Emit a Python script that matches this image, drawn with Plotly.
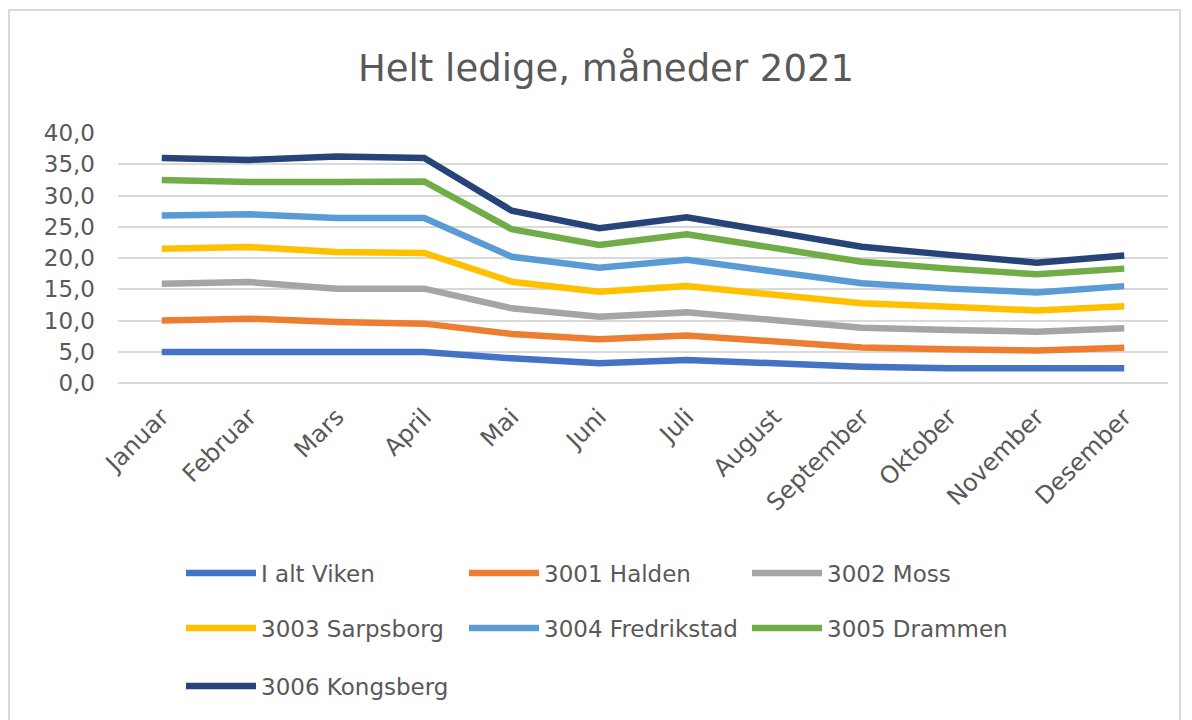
import plotly.graph_objects as go

months = ["Januar", "Februar", "Mars", "April", "Mai", "Juni", "Juli",
          "August", "September", "Oktober", "November", "Desember"]

viken = [4.95, 4.95, 4.95, 4.95, 3.95, 3.15, 3.70, 3.15, 2.60, 2.35, 2.35, 2.35]
halden = [5.05, 5.35, 4.80, 4.55, 3.90, 3.85, 3.90, 3.45, 3.10, 3.05, 2.85, 3.30]
moss = [5.90, 5.85, 5.35, 5.60, 4.10, 3.60, 3.70, 3.50, 3.15, 3.10, 3.00, 3.10]
sarpsborg = [5.60, 5.60, 5.85, 5.70, 4.25, 4.00, 4.20, 4.10, 3.90, 3.70, 3.40, 3.55]
fredrikstad = [5.30, 5.25, 5.45, 5.60, 4.00, 3.85, 4.20, 3.60, 3.20, 2.90, 2.90, 3.20]
drammen = [5.70, 5.15, 5.75, 5.85, 4.40, 3.65, 4.10, 3.70, 3.45, 3.20, 2.90, 2.80]
kongsberg = [3.50, 3.55, 4.10, 3.75, 2.97, 2.65, 2.70, 2.70, 2.40, 2.20, 1.85, 2.10]

series = [
    ("I alt Viken", viken, "#4472C4", "legend"),
    ("3001 Halden", halden, "#ED7D31", "legend"),
    ("3002 Moss", moss, "#A5A5A5", "legend"),
    ("3003 Sarpsborg", sarpsborg, "#FFC000", "legend2"),
    ("3004 Fredrikstad", fredrikstad, "#5B9BD5", "legend2"),
    ("3005 Drammen", drammen, "#70AD47", "legend2"),
    ("3006 Kongsberg", kongsberg, "#264478", "legend3"),
]

FONT = "DejaVu Sans"
GREY = "#595959"

fig = go.Figure()
for name, vals, color, lg in series:
    fig.add_trace(go.Scatter(
        x=months, y=vals, name=name, mode="lines",
        stackgroup="one", fill="none",
        line=dict(color=color, width=6.5),
        legend=lg,
    ))

# The page body has an 8px margin, so work in screen pixels minus 8.
OFF = 8
W, H = 1192 - OFF, 720 - OFF
L = 118 - OFF
T = 133 - OFF
PW, PH = 1050, 250
R = W - L - PW
B = H - T - PH

def px2x(px):
    return (px - OFF - L) / PW

def py2y(py):
    return (T + PH - (py - OFF)) / PH

legend_common = dict(
    orientation="h", xanchor="left", yanchor="middle",
    entrywidth=198, entrywidthmode="pixels", itemwidth=70,
    font=dict(family=FONT, size=23, color=GREY),
    bgcolor="rgba(0,0,0,0)", tracegroupgap=0,
)

fig.update_layout(
    width=W, height=H,
    margin=dict(l=L, r=R, t=T, b=B),
    paper_bgcolor="white", plot_bgcolor="white",
    separators=", ",
    title=dict(text="Helt ledige, måneder 2021", x=(606 - OFF) / W, xref="container",
               y=1 - (68 - OFF) / H, yref="container", xanchor="center", yanchor="middle",
               font=dict(family=FONT, size=37, color=GREY)),
    xaxis=dict(range=[-0.5, 11.5], tickangle=-45, showgrid=False,
               showline=False, ticks="", ticklabelstandoff=14,
               tickfont=dict(family=FONT, size=24, color=GREY)),
    yaxis=dict(range=[0, 40], dtick=5, tickformat=".1f",
               showgrid=True, gridcolor="#D9D9D9", gridwidth=1.5,
               zeroline=True, zerolinecolor="#D9D9D9", zerolinewidth=1.5,
               showline=False, ticks="", ticklabelstandoff=22,
               tickfont=dict(family=FONT, size=23, color=GREY)),
    legend=dict(x=px2x(181), y=py2y(573), **legend_common),
    legend2=dict(x=px2x(181), y=py2y(628), **legend_common),
    legend3=dict(x=px2x(181), y=py2y(686), **legend_common),
    showlegend=True,
)

fig.add_shape(type="rect", xref="paper", yref="paper",
              x0=px2x(9), x1=px2x(1180), y0=py2y(730), y1=py2y(10),
              line=dict(color="#D9D9D9", width=2), fillcolor="rgba(0,0,0,0)",
              layer="below")

fig.write_html("out.html")
